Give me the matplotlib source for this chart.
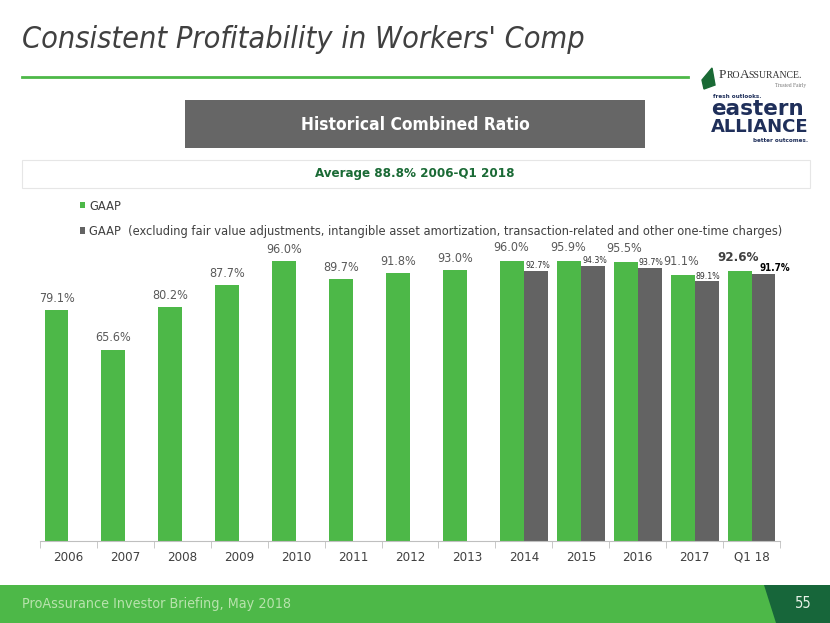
import matplotlib
matplotlib.use("Agg")
import matplotlib.pyplot as plt
from matplotlib.patches import Rectangle, Polygon
import numpy as np

categories = ["2006", "2007", "2008", "2009", "2010", "2011", "2012", "2013",
              "2014", "2015", "2016", "2017", "Q1 18"]
gaap = [79.1, 65.6, 80.2, 87.7, 96.0, 89.7, 91.8, 93.0, 96.0, 95.9, 95.5, 91.1, 92.6]
gaap_adj = [None, None, None, None, None, None, None, None, 92.7, 94.3, 93.7, 89.1, 91.7]
series_names = ["GAAP",
                "GAAP  (excluding fair value adjustments, intangible asset amortization, transaction-related and other one-time charges)"]

GREEN = "#4db848"
GRAY = "#636363"
DARKGREEN = "#1a6a35"
NAVY = "#1f2f5a"
TXT = "#404040"
CS = 'condensed'

plt.rcParams['font.family'] = ['DejaVu Sans']
plt.rcParams['font.stretch'] = CS
fig = plt.figure(figsize=(8.3, 6.23), dpi=100)
W, H = 830, 623

def fx(px):
    return px / W
def fy(py):
    return 1 - py / H

# Title
fig.text(fx(22), fy(40), "Consistent Profitability in Workers' Comp", fontsize=22,
         style='italic', color=TXT, va='center', ha='left', fontstretch=CS)
fig.add_artist(plt.Line2D([fx(22), fx(688)], [fy(77), fy(77)], color=GREEN, lw=2))

# Logo approximation
fig.add_artist(Polygon([[fx(702), fy(80)], [fx(712), fy(68)], [fx(715), fy(85)], [fx(704), fy(89)]],
                       closed=True, color=DARKGREEN))
fig.text(fx(719), fy(78), "P", fontsize=9.5, family='Liberation Serif',
         color='#333333', va='baseline', ha='left')
fig.text(fx(727), fy(78), "RO", fontsize=7, family='Liberation Serif',
         color='#333333', va='baseline', ha='left')
fig.text(fx(740), fy(78), "A", fontsize=9.5, family='Liberation Serif',
         color='#333333', va='baseline', ha='left')
fig.text(fx(748), fy(78), "SSURANCE.", fontsize=7, family='Liberation Serif',
         color='#333333', va='baseline', ha='left')
fig.text(fx(806), fy(86), "Trusted Fairly", fontsize=4, family='Liberation Serif',
         color='#777777', va='center', ha='right')
fig.text(fx(713), fy(97), "fresh outlooks.", fontsize=4.5, color=NAVY,
         va='center', ha='left', weight='bold')
fig.text(fx(711), fy(115), "eastern", fontsize=15.5, color=NAVY, va='baseline',
         ha='left', weight='bold', fontstretch='normal')
fig.text(fx(711), fy(132), "ALLIANCE", fontsize=13, color=NAVY, va='baseline',
         ha='left', weight='bold', fontstretch='normal')
fig.text(fx(808), fy(140), "better outcomes.", fontsize=4.5, color=NAVY,
         va='center', ha='right', weight='bold')

# Gray header box
fig.add_artist(Rectangle((fx(185), fy(148)), fx(645) - fx(185), fy(100) - fy(148),
                         color='#666666', lw=0))
fig.text(fx(415), fy(125), "Historical Combined Ratio", fontsize=12.5, weight='bold',
         color='white', va='center', ha='center')

# Subtitle box
fig.add_artist(Rectangle((fx(22), fy(188)), fx(810) - fx(22), fy(160) - fy(188),
                         facecolor='white', edgecolor='#e6e6e6', lw=0.8))
fig.text(fx(415), fy(174), "Average 88.8% 2006-Q1 2018", fontsize=9.5, weight='bold',
         color=DARKGREEN, va='center', ha='center')

# Axes
ax = fig.add_axes([fx(40), fy(541), fx(780) - fx(40), fy(245) - fy(541)])
x = np.arange(len(categories))
w = 0.42
scale_top = 101.5
ax.set_ylim(0, scale_top)
ax.set_xlim(-0.5, len(categories) - 0.5)

ax.bar(x - w / 2, gaap, width=w, color=GREEN, label=series_names[0])
adj_x = [xi + w / 2 for xi, v in zip(x, gaap_adj) if v is not None]
adj_v = [v for v in gaap_adj if v is not None]
ax.bar(adj_x, adj_v, width=w, color=GRAY, label=series_names[1])

for i, v in enumerate(gaap):
    last = (i == len(gaap) - 1)
    paired = gaap_adj[i] is not None
    ax.text(x[i] - w / 2 - (0.02 if paired else 0), v + (2.4 if paired else 1.8),
            f"{v:.1f}%", ha='center', va='bottom',
            fontsize=9 if not last else 9.5, color=TXT if last else '#595959',
            weight='bold' if last else 'normal')
for xi, v in zip(adj_x, adj_v):
    last = (xi == adj_x[-1])
    ax.text(xi + (0.2 if last else 0.03), v + 0.2, f"{v:.1f}%", ha='center',
            va='bottom', fontsize=7 if last else 6.3,
            color='black' if last else '#333333',
            weight='bold' if last else 'normal')

for s in ['top', 'right', 'left']:
    ax.spines[s].set_visible(False)
ax.spines['bottom'].set_color('#bfbfbf')
ax.set_yticks([])
ax.set_xticks(x)
ax.set_xticklabels(categories, fontsize=9.5, color=TXT)
ax.tick_params(axis='x', length=0, pad=7)
ax.set_xticks(np.arange(-0.5, len(categories)), minor=True)
ax.tick_params(axis='x', which='minor', length=5, color='#bfbfbf')

# Legend
leg = fig.legend(handles=ax.patches[:1] + [ax.patches[len(gaap)]],
                 labels=series_names, loc='upper left',
                 bbox_to_anchor=(fx(68), fy(188)), frameon=False, fontsize=9.2,
                 handlelength=0.45, handleheight=0.45, handletextpad=0.3,
                 labelspacing=1.0, labelcolor=TXT)

# Footer
fig.add_artist(Rectangle((0, 0), 1, fy(585), color=GREEN, lw=0))
fig.add_artist(Polygon([[fx(764), fy(585)], [1, fy(585)], [1, 0], [fx(776), 0]],
                       closed=True, color='#17663a', lw=0))
fig.text(fx(22), fy(604), "ProAssurance Investor Briefing, May 2018", fontsize=10.3,
         color='#b8e3ad', va='center', ha='left')
fig.text(fx(803), fy(604), "55", fontsize=10.5, color='#e8f2e8', va='center', ha='center')

fig.savefig("out.png", dpi=100)
